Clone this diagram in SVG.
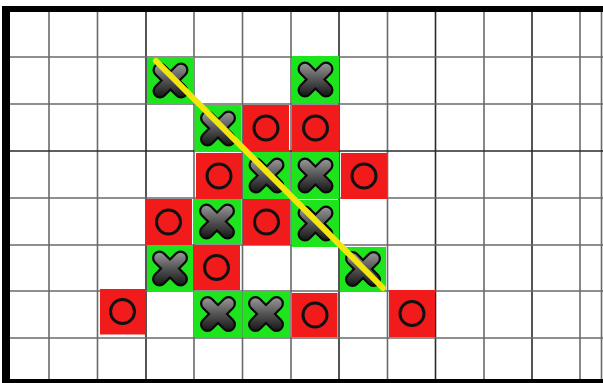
<svg xmlns="http://www.w3.org/2000/svg" width="603" height="383" viewBox="0 0 603 383">
  <defs>
    <style>
      .grid line { stroke: #6a6a6a; stroke-width: 1.6; }
      .grid line.dk { stroke: #2a2a2a; }
      .g { fill: #1de41d; }
      .r { fill: #f21b1b; }
      .o { fill: none; stroke: #111; stroke-width: 3; }
      .xo { stroke: #0a0a0a; stroke-width: 15; stroke-linecap: round; fill: none; }
      .xi { stroke: url(#xg); stroke-width: 10.5; stroke-linecap: round; fill: none; }
    </style>
    <linearGradient id="xg" gradientUnits="userSpaceOnUse" x1="0" y1="-17" x2="0" y2="17">
      <stop offset="0" stop-color="#9a9a9a"/>
      <stop offset="0.45" stop-color="#5a5a5a"/>
      <stop offset="1" stop-color="#151515"/>
    </linearGradient>
    <g id="xmark">
      <path class="xo" d="M-10.5,-10.5 L10.5,10.5 M10.5,-10.5 L-10.5,10.5"/>
      <path class="xi" d="M-10.5,-10.5 L10.5,10.5 M10.5,-10.5 L-10.5,10.5"/>
    </g>
    <g id="omark">
      <circle class="o" r="12"/>
    </g>
  </defs>

  <rect x="0" y="0" width="603" height="383" fill="#ffffff"/>

  <g class="grid">
    <line x1="49" y1="12" x2="49" y2="380"/>
    <line x1="97.5" y1="12" x2="97.5" y2="380"/>
    <line class="dk" x1="146" y1="12" x2="146" y2="380"/>
    <line x1="194" y1="12" x2="194" y2="380"/>
    <line x1="242.5" y1="12" x2="242.5" y2="380"/>
    <line x1="291" y1="12" x2="291" y2="380"/>
    <line class="dk" x1="339" y1="12" x2="339" y2="380"/>
    <line x1="387.5" y1="12" x2="387.5" y2="380"/>
    <line class="dk" x1="435.5" y1="12" x2="435.5" y2="380"/>
    <line x1="484" y1="12" x2="484" y2="380"/>
    <line class="dk" x1="532" y1="12" x2="532" y2="380"/>
    <line x1="580" y1="12" x2="580" y2="380"/>
    <line x1="601.5" y1="12" x2="601.5" y2="380"/>
    <line x1="10" y1="57" x2="603" y2="57"/>
    <line x1="10" y1="104" x2="603" y2="104"/>
    <line class="dk" x1="10" y1="151" x2="603" y2="151"/>
    <line x1="10" y1="198" x2="603" y2="198"/>
    <line x1="10" y1="245" x2="603" y2="245"/>
    <line x1="10" y1="291" x2="603" y2="291"/>
    <line x1="10" y1="338" x2="603" y2="338"/>
  </g>

  <g id="border" fill="#000">
    <rect x="2" y="6" width="601" height="6"/>
    <rect x="2" y="6" width="8" height="377"/>
    <rect x="2" y="379" width="601" height="4"/>
  </g>

  <!-- Row 1 -->
  <g id="x-r1c3"><rect class="g" x="147" y="57" width="47" height="47"/><use href="#xmark" x="170.5" y="80.5"/></g>
  <g id="x-r1c6"><rect class="g" x="292" y="56" width="47" height="47"/><use href="#xmark" x="315.5" y="79.5"/></g>
  <!-- Row 2 -->
  <g id="x-r2c4"><rect class="g" x="194.5" y="105" width="47" height="47"/><use href="#xmark" x="218" y="128.5"/></g>
  <g id="o-r2c5"><rect class="r" x="243" y="105" width="46" height="46"/><use href="#omark" x="266" y="128"/></g>
  <g id="o-r2c6"><rect class="r" x="292" y="105" width="47" height="46"/><use href="#omark" x="315.5" y="128"/></g>
  <!-- Row 3 -->
  <g id="o-r3c4"><rect class="r" x="196" y="153" width="46" height="46"/><use href="#omark" x="219" y="176"/></g>
  <g id="x-r3c5"><rect class="g" x="243" y="152" width="47" height="47"/><use href="#xmark" x="266.5" y="175.5"/></g>
  <g id="x-r3c6"><rect class="g" x="292" y="152" width="47" height="47"/><use href="#xmark" x="315.5" y="175.5"/></g>
  <g id="o-r3c7"><rect class="r" x="341" y="153" width="46" height="46"/><use href="#omark" x="364" y="176"/></g>
  <!-- Row 4 -->
  <g id="o-r4c3"><rect class="r" x="145" y="199" width="47" height="46"/><use href="#omark" x="168.5" y="222"/></g>
  <g id="x-r4c4"><rect class="g" x="193" y="199" width="48.5" height="45"/><use href="#xmark" x="217" y="221.5"/></g>
  <g id="o-r4c5"><rect class="r" x="243" y="199" width="47" height="46"/><use href="#omark" x="266.5" y="222"/></g>
  <g id="x-r4c6"><rect class="g" x="292" y="200" width="47" height="47"/><use href="#xmark" x="315.5" y="223.5"/></g>
  <!-- Row 5 -->
  <g id="x-r5c3"><rect class="g" x="147" y="245" width="46.5" height="47"/><use href="#xmark" x="170" y="268.5"/></g>
  <g id="o-r5c4"><rect class="r" x="193" y="245" width="47" height="45"/><use href="#omark" x="216.5" y="267.5"/></g>
  <g id="x-r5c7"><rect class="g" x="340" y="247" width="46" height="44"/><use href="#xmark" x="363" y="269"/></g>
  <!-- Row 6 -->
  <g id="o-r6c2"><rect class="r" x="100" y="289" width="45.5" height="45.5"/><use href="#omark" x="122.5" y="311.5"/></g>
  <g id="x-r6c4"><rect class="g" x="194" y="291" width="48" height="46"/><use href="#xmark" x="218" y="314"/></g>
  <g id="x-r6c5"><rect class="g" x="242.5" y="291" width="47.5" height="46"/><use href="#xmark" x="266" y="314"/></g>
  <g id="o-r6c6"><rect class="r" x="292" y="293" width="45.5" height="44"/><use href="#omark" x="315" y="315"/></g>
  <g id="o-r6c8"><rect class="r" x="389" y="290" width="46" height="47"/><use href="#omark" x="412" y="313.5"/></g>

  <g id="connectors">
    <line x1="156" y1="61" x2="383" y2="288" stroke="#f3e60a" stroke-width="6" stroke-linecap="round"/>
  </g>
</svg>
